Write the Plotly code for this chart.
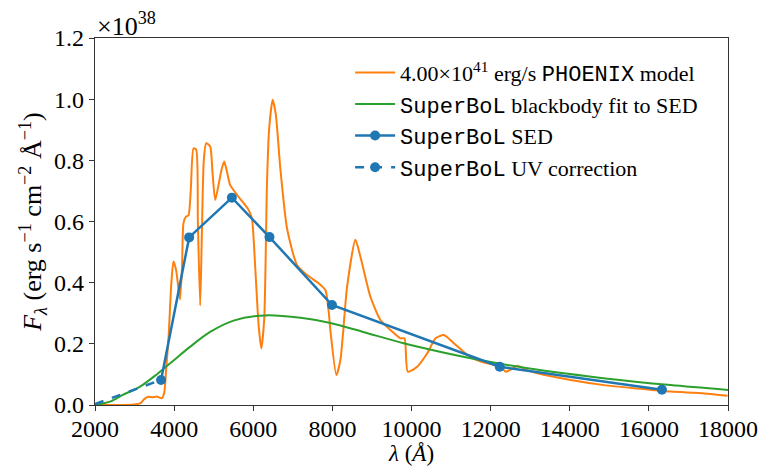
import plotly.graph_objects as go

# PHOENIX model spectrum (units of 1e38)
model_wl = [2000, 2500, 3000, 3140, 3250, 3350, 3450, 3560, 3690, 3750, 3800, 3860, 3930, 3983,
            4050, 4110, 4150, 4200, 4236, 4300, 4362, 4420, 4490, 4557, 4600, 4658, 4700, 4750,
            4810, 4911, 4970, 5038, 5122, 5200, 5266, 5340, 5418, 5628, 5881, 5966, 6051, 6135,
            6203, 6278, 6346, 6400, 6490, 6570, 6684, 6853, 7106, 7359, 7654, 7823, 7907, 7949,
            8101, 8203, 8372, 8582, 8709, 8962, 9215, 9468, 9722, 9823, 9907, 10144, 10397,
            10608, 10818, 11071, 11410, 11747, 12000, 12253, 12380, 12500, 12676, 12900, 13182,
            14025, 14869, 15714, 16557, 17400, 17990]
model_flux = [0.0, 0.0, 0.002, 0.005, 0.02, 0.027, 0.025, 0.028, 0.022, 0.04, 0.12, 0.223, 0.40,
              0.469, 0.441, 0.38, 0.345, 0.45, 0.594, 0.616, 0.62, 0.70, 0.839, 0.835, 0.60,
              0.325, 0.55, 0.80, 0.856, 0.845, 0.76, 0.670, 0.719, 0.77, 0.796, 0.76, 0.719,
              0.681, 0.638, 0.61, 0.447, 0.262, 0.185, 0.283, 0.719, 0.90, 0.998, 0.95, 0.774,
              0.578, 0.458, 0.425, 0.398, 0.376, 0.305, 0.245, 0.098, 0.147, 0.387, 0.540,
              0.485, 0.354, 0.278, 0.245, 0.218, 0.218, 0.109, 0.125, 0.169, 0.218, 0.229,
              0.202, 0.164, 0.142, 0.134, 0.125, 0.109, 0.115, 0.128, 0.115, 0.104, 0.082,
              0.065, 0.054, 0.044, 0.038, 0.030]

# Blackbody fit
bb_wl = [2000, 2400, 2700, 3140, 3560, 3980, 4400, 4900, 5500, 6300, 7200, 7950, 8800, 9800,
         10800, 11900, 13200, 14900, 16550, 18000]
bb_flux = [0.0, 0.012, 0.033, 0.06, 0.10, 0.145, 0.19, 0.238, 0.276, 0.293, 0.285, 0.268,
           0.238, 0.202, 0.172, 0.143, 0.115, 0.087, 0.065, 0.049]

# SuperBoL SED points
sed_wl = [3670, 4380, 5460, 6410, 7990, 12230, 16330]
sed_flux = [0.082, 0.548, 0.678, 0.549, 0.327, 0.125, 0.050]

# UV correction
uv_wl = [2000, 3670]
uv_flux = [0.003, 0.082]

x_ticks = [2000, 4000, 6000, 8000, 10000, 12000, 14000, 16000, 18000]
y_ticks = [0.0, 0.2, 0.4, 0.6, 0.8, 1.0, 1.2]

SERIF = "Liberation Serif, Times New Roman, serif"
MONO = "Liberation Mono, DejaVu Sans Mono, monospace"

def mono(s):
    return f'<span style="font-family:{MONO}">{s}</span>'

fig = go.Figure()
fig.add_trace(go.Scatter(
    x=model_wl, y=model_flux, mode="lines",
    line=dict(color="#ff7f0e", width=2, shape="spline", smoothing=0.6),
    name="4.00×10<sup>41</sup> erg/s " + mono("PHOENIX") + " model"))
fig.add_trace(go.Scatter(
    x=bb_wl, y=bb_flux, mode="lines",
    line=dict(color="#2ca02c", width=2, shape="spline", smoothing=0.8),
    name=mono("SuperBoL") + " blackbody fit to SED"))
fig.add_trace(go.Scatter(
    x=sed_wl, y=sed_flux, mode="lines+markers",
    line=dict(color="#1f77b4", width=2.5),
    marker=dict(color="#1f77b4", size=10),
    name=mono("SuperBoL") + " SED"))
fig.add_trace(go.Scatter(
    x=uv_wl, y=uv_flux, mode="lines",
    line=dict(color="#1f77b4", width=2.5, dash="dash"),
    showlegend=False, hoverinfo="skip"))
fig.add_trace(go.Scatter(
    x=[None], y=[None], mode="lines+markers",
    line=dict(color="#1f77b4", width=2.5, dash="dash"),
    marker=dict(color="#1f77b4", size=10),
    name=mono("SuperBoL") + " UV correction"))

axis_common = dict(showgrid=False, zeroline=False, showline=True, linecolor="#333",
                   linewidth=1.2, mirror=True, ticks="outside", ticklen=5, tickwidth=1,
                   tickcolor="#333", automargin=False,
                   tickfont=dict(family=SERIF, size=24, color="black"))

fig.update_xaxes(range=[2000, 18000], tickvals=x_ticks,
                 ticktext=[str(v) for v in x_ticks],
                 ticklabelstandoff=-3,
                 title=dict(text="<i>λ</i> (<i>Å</i>)", font=dict(family=SERIF, size=23, color="black"),
                            standoff=0),
                 **axis_common)
fig.update_yaxes(range=[0, 1.2], tickvals=y_ticks,
                 ticktext=[f"{v:.1f}" for v in y_ticks],
                 title=dict(text="<i>F</i><sub><i>λ</i></sub> (erg s<sup>−1</sup> cm<sup>−2</sup> Å<sup>−1</sup>)",
                            font=dict(family=SERIF, size=26, color="black"), standoff=4),
                 **axis_common)

fig.add_annotation(text="×10<sup>38</sup>", xref="paper", yref="paper", x=0, y=1,
                   xanchor="left", yanchor="bottom", showarrow=False,
                   font=dict(family=SERIF, size=26, color="black"), yshift=-5)

# the page body adds an 8px offset, so the figure is sized to fit the window
fig.update_layout(
    width=768, height=458,
    margin=dict(l=87, r=48, t=30, b=61),
    plot_bgcolor="white", paper_bgcolor="white",
    font=dict(family=SERIF, color="black"),
    legend=dict(x=0.403, y=0.963, xanchor="left", yanchor="top",
                bgcolor="rgba(255,255,255,0)", font=dict(family=SERIF, size=22, color="black"),
                itemwidth=40, tracegroupgap=0),
    showlegend=True,
)

fig.write_html("out.html")
